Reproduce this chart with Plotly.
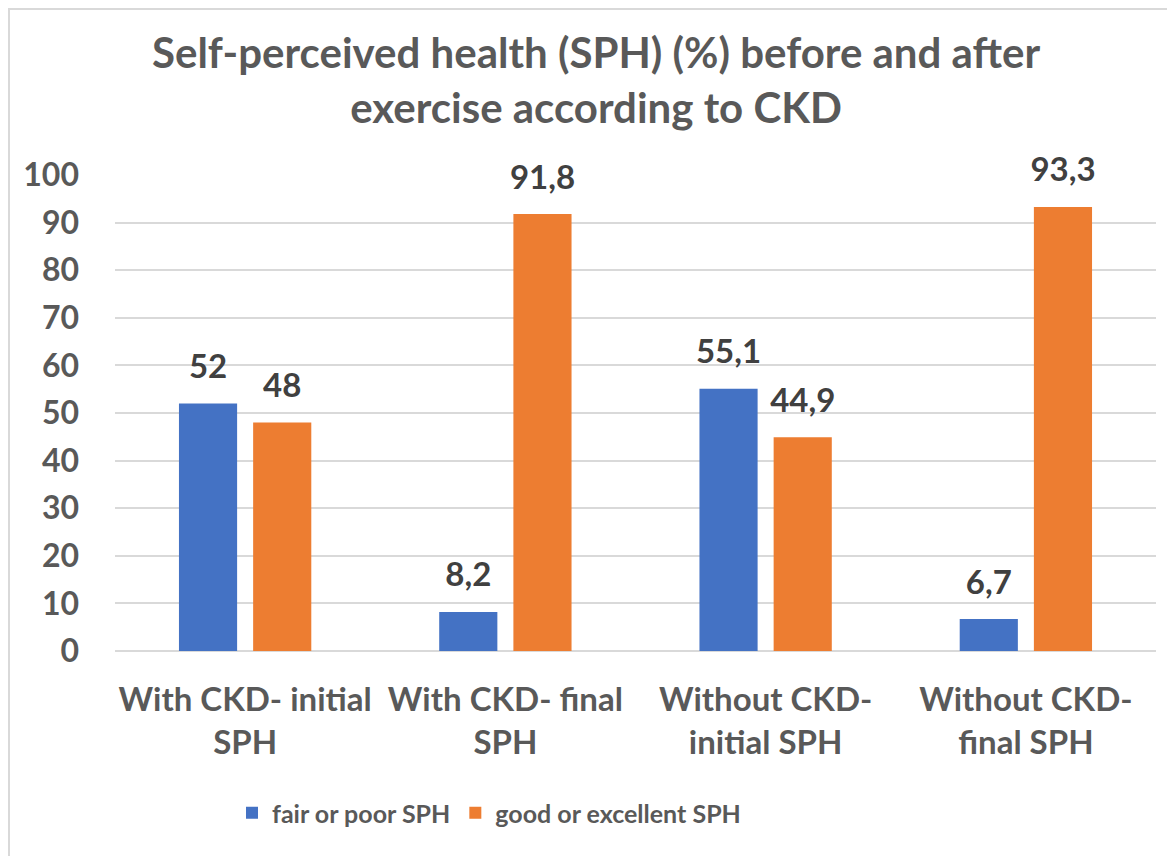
import plotly.graph_objects as go

categories = ["With CKD- initial<br>SPH", "With CKD- final<br>SPH", "Without CKD-<br>initial SPH", "Without CKD-<br>final SPH"]
fair_poor = [52, 8.2, 55.1, 6.7]
good_excellent = [48, 91.8, 44.9, 93.3]
series_names = ["fair or poor SPH", "good or excellent SPH"]
y_ticks = [0, 10, 20, 30, 40, 50, 60, 70, 80, 90, 100]

FONT = "Lato"
GRAY = "#595959"
LABEL = "#404040"
COLORS = ["#4472C4", "#ED7D31"]

fig = go.Figure()
for i, (name, vals) in enumerate([(series_names[0], fair_poor), (series_names[1], good_excellent)]):
    fig.add_trace(go.Bar(
        x=categories, y=vals, name=name, marker_color=COLORS[i], marker_line_width=0,
        offsetgroup=str(i),
    ))
for i, vals in enumerate([fair_poor, good_excellent]):
    fig.add_trace(go.Scatter(
        x=categories, y=vals, mode="markers+text", offsetgroup=str(i),
        marker=dict(size=26, opacity=0), texttemplate="%{y}", textposition="top center",
        textfont=dict(family=FONT, size=33, color=LABEL, weight="bold"),
        showlegend=False, hoverinfo="skip", cliponaxis=False,
    ))

# screen coords; the page body margin puts the figure at an 8px offset
W, H = 1167, 848
L, R, T, B = 107, 19, 167, 205

def px(x):
    return (x - 115) / 1041

def py(y):
    return (651 - y) / 476

fig.update_layout(
    width=W, height=H,
    margin=dict(l=L, r=R, t=T, b=B),
    paper_bgcolor="white", plot_bgcolor="white",
    separators=", ",
    barmode="group", bargap=0.43, bargroupgap=0.216,
    scattermode="group", scattergap=0.43,
    font=dict(family=FONT, color=GRAY, size=30, weight="bold"),
    showlegend=True,
    legend=dict(orientation="h", x=px(489), xanchor="center", y=py(813), yanchor="middle",
                font=dict(family=FONT, size=25, color=GRAY, weight="bold"),
                traceorder="normal"),
    xaxis=dict(showgrid=False, showline=False, ticks="", ticklabelstandoff=26,
               tickfont=dict(family=FONT, size=33, color=GRAY, weight="bold")),
    yaxis=dict(range=[0, 100], tickvals=y_ticks, showgrid=True, gridcolor="#D9D9D9", gridwidth=1.5,
               zeroline=True, zerolinecolor="#D9D9D9", zerolinewidth=1.5, showline=False, ticks="",
               ticklabelstandoff=35,
               tickfont=dict(family=FONT, size=32, color=GRAY, weight="bold")),
    shapes=[dict(type="rect", xref="paper", yref="paper", x0=px(9), x1=px(1200), y0=py(880), y1=py(9),
                 line=dict(color="#D9D9D9", width=2), fillcolor="rgba(0,0,0,0)", layer="below")],
    annotations=[dict(text="Self-perceived health (SPH) (%) before and after<br>exercise according to CKD",
                      xref="paper", yref="paper", x=px(596), y=py(79), xanchor="center", yanchor="middle",
                      showarrow=False, font=dict(family=FONT, size=42, color=GRAY, weight="bold"))],
)

fig.write_html("out.html")
